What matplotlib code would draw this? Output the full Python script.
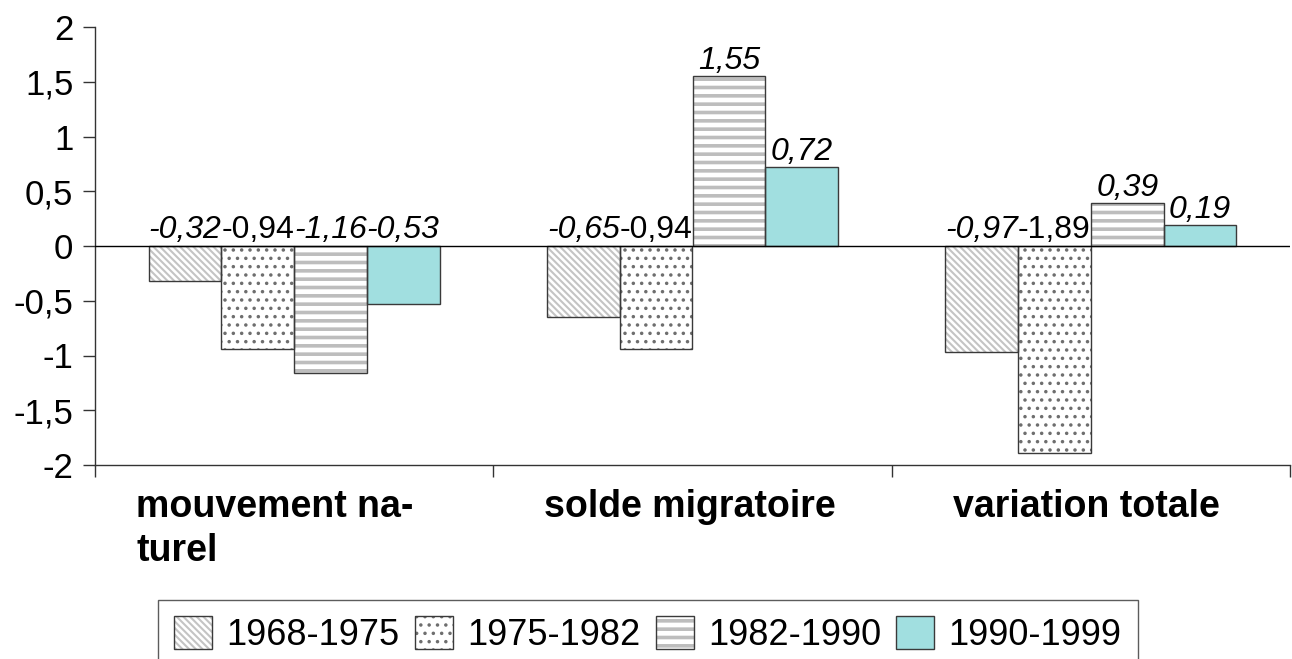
import matplotlib.pyplot as plt
import matplotlib.patches as mpatches
from matplotlib.legend_handler import HandlerPatch
from matplotlib.ticker import FuncFormatter, FixedLocator
import numpy as np

plt.rcParams['font.family'] = ['Liberation Sans', 'DejaVu Sans']

categories = ['mouvement na-\nturel', 'solde migratoire', 'variation totale']
periods = ['1968-1975', '1975-1982', '1982-1990', '1990-1999']
values = {
    '1968-1975': [-0.32, -0.65, -0.97],
    '1975-1982': [-0.94, -0.94, -1.89],
    '1982-1990': [-1.16, 1.55, 0.39],
    '1990-1999': [-0.53, 0.72, 0.19],
}

# fill, hatch, hatch colour, hatch line width, italic value labels
styles = [
    ('white', '\\' * 5, '#c4c4c4', 1.5, True),
    ('white', '..', '#6e6e6e', 1.3, False),
    ('white', '--', '#bdbdbd', 2.6, True),
    ('#a1dfe0', '', '#a1dfe0', 1.0, True),
]
edge = '#3a3a3a'


def fmt(v):
    return f'{v:.2f}'.replace('.', ',')


def legend_rect(legend, orig_handle, xdescent, ydescent, width, height, fontsize):
    p = mpatches.Rectangle((-xdescent, -ydescent), width, height)
    p.update_from(orig_handle)
    if hasattr(p, 'set_hatch_linewidth'):
        p.set_hatch_linewidth(getattr(orig_handle, '_hlw', 1.0))
    return p


fig = plt.figure(figsize=(12.92, 6.59), dpi=100)
ax = fig.add_axes([95 / 1292, 1 - 465 / 659, 1195 / 1292, 438 / 659])

x = np.arange(len(categories)) + 0.5
w = 0.1825
handles = []
for i, name in enumerate(periods):
    fill, hatch, hcol, hlw, italic = styles[i]
    pos = x + (i - 1.5) * w
    vals = values[name]
    bars = ax.bar(pos, vals, w, color=fill, edgecolor=hcol, hatch=hatch, lw=0, zorder=2)
    for b in bars:
        if hasattr(b, 'set_hatch_linewidth'):
            b.set_hatch_linewidth(hlw)
    ax.bar(pos, vals, w, fill=False, edgecolor=edge, lw=1.0, zorder=3)
    for p, v in zip(pos, vals):
        ax.annotate(fmt(v), (p, max(v, 0)), xytext=(0, 5.5), textcoords='offset points',
                    ha='center', va='baseline', fontsize=23,
                    style='italic' if italic else 'normal', zorder=5)
    h1 = mpatches.Patch(facecolor=fill, edgecolor=hcol, hatch=hatch, lw=0)
    h1._hlw = hlw
    h2 = mpatches.Patch(fill=False, edgecolor=edge, lw=1.0)
    handles.append((h1, h2))

ax.axhline(0, color='black', lw=1.0, zorder=4)

ax.set_xlim(0, 3)
ax.set_ylim(-2, 2)
ax.set_yticks(np.arange(-2, 2.01, 0.5))
ax.yaxis.set_major_formatter(FuncFormatter(lambda v, _: f'{v:g}'.replace('.', ',')))
ax.tick_params(axis='y', direction='out', length=8.6, width=1, pad=7, labelsize=25, color='#333333')

# category labels (wrapped block, lines left-aligned)
ax.set_xticks([])
ax.xaxis.set_minor_locator(FixedLocator([0, 1, 2, 3]))
ax.tick_params(axis='x', which='minor', direction='out', length=8.6, width=1, color='#333333')
label_shift = [-14, -2, -3]
for xi, lab, dx in zip(x, categories, label_shift):
    ax.annotate(lab, (xi, 0), xycoords=('data', 'axes fraction'), xytext=(dx, -17),
                textcoords='offset points', ha='center', va='top', multialignment='left',
                fontsize=27, fontweight='bold', linespacing=1.3, annotation_clip=False)

for s in ['top', 'right']:
    ax.spines[s].set_visible(False)
for s in ['left', 'bottom']:
    ax.spines[s].set_color('#333333')
    ax.spines[s].set_linewidth(1)

leg = fig.legend(handles, periods, loc='upper center', bbox_to_anchor=(648 / 1292, 1 - 600 / 659),
                 ncol=4, fontsize=26, frameon=True, fancybox=False, edgecolor='#333333',
                 handlelength=1.05, handleheight=1.0, handletextpad=0.4, columnspacing=0.42,
                 borderpad=0.45, borderaxespad=0,
                 handler_map={mpatches.Patch: HandlerPatch(patch_func=legend_rect)})
leg.get_frame().set_linewidth(1)

fig.savefig('out.png', dpi=100)
